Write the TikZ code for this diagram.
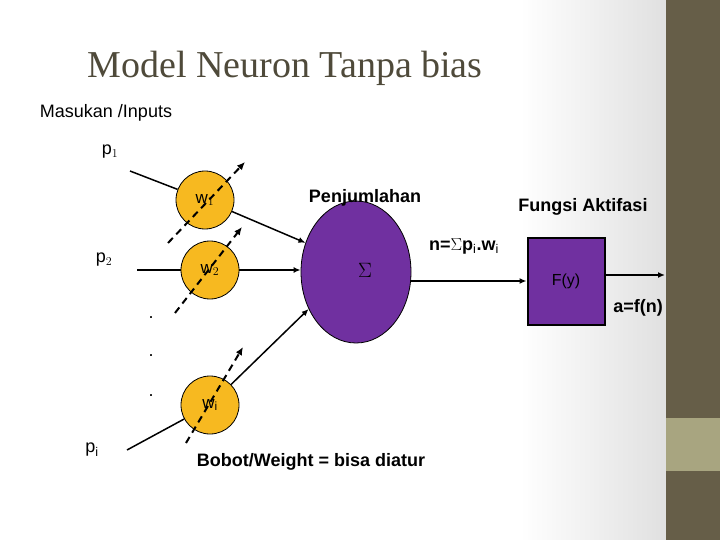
\documentclass[tikz,border=0pt]{standalone}
\usepackage{fontspec}
\setmainfont{Liberation Sans}
\newfontfamily\titlefont{Liberation Serif}
\usetikzlibrary{arrows.meta,shapes.geometric}
\definecolor{olive}{HTML}{665E48}
\definecolor{lolive}{HTML}{A8A580}
\definecolor{purp}{HTML}{7030A0}
\definecolor{gold}{HTML}{F7B920}
\definecolor{titlec}{HTML}{4F4A3A}
\begin{document}
\begin{tikzpicture}[x=1pt,y=-1pt,
  wt/.style={circle,draw=black,thick,fill=gold,minimum size=58pt,inner sep=0pt,font=\fontsize{17}{17}\selectfont},
  lab/.style={font=\fontsize{18}{18}\selectfont},
  blab/.style={font=\bfseries\fontsize{18}{18}\selectfont},
  conn/.style={line width=1.5pt,-{Latex[length=7pt,width=6pt]}},
  plain/.style={line width=1.5pt},
  wdash/.style={line width=2pt,dash pattern=on 7pt off 5pt,-{Latex[length=8pt,width=7pt]}}]
\useasboundingbox (0,0) rectangle (720,540);
\shade[left color=white,right color=white!88!black] (520,0) rectangle (666,540);
\fill[olive] (666,0) rectangle (720,540);
\fill[lolive] (666,418) rectangle (720,471);
\node[font=\titlefont\fontsize{38}{38}\selectfont,text=titlec] (title) at (285,68) {Model Neuron Tanpa bias};
\node[lab] (inp) at (106,113) {Masukan /Inputs};
\node[lab] (p1) at (110,152) {p$_1$};
\node[lab] (p2) at (104,260) {p$_2$};
\node[lab] (pi) at (92,450) {p$_\mathrm{i}$};
\coordinate (p1e) at (130,171);
\coordinate (p2e) at (137,270);
\coordinate (pie) at (127,450);
\node[wt] (w1) at (205,200) {w$_1$};
\node[wt] (w2) at (210,270) {w$_2$};
\node[wt] (wi) at (210,405) {w$_\mathrm{i}$};
\node[ellipse,draw=black,thick,fill=purp,minimum width=110pt,minimum height=142pt] (sum) at (356,272) {};
\node[font=\fontsize{22}{22}\selectfont] (sig) at (365,270) {$\Sigma$};
\node[draw=black,line width=2pt,fill=purp,minimum width=77pt,minimum height=87pt,inner sep=0pt,font=\fontsize{16}{16}\selectfont] (box) at (566,281) {F(y)};
\draw[plain] (p1e) -- (w1);
\draw[plain] (p2e) -- (w2);
\draw[plain] (pie) -- (wi);
\draw[conn] (w1) -- (sum.150);
\draw[conn] (w2) -- (sum.west |- w2);
\draw[conn] (wi) -- (sum.218);
\coordinate (d1s) at (168,243); \coordinate (d1e) at (245,162);
\coordinate (d2s) at (175,313); \coordinate (d2e) at (242,227);
\coordinate (dis) at (186,443); \coordinate (die) at (243,347);
\draw[wdash] (d1s) -- (d1e);
\draw[wdash] (d2s) -- (d2e);
\draw[wdash] (dis) -- (die);
\node[lab] (dot1) at (151,318) {.};
\node[lab] (dot2) at (151,356) {.};
\node[lab] (dot3) at (151,396) {.};
\draw[conn] (sum.east |- box) -- (box.west);
\coordinate (out) at (665,275);
\draw[conn] (box.east |- out) -- (out);
\node[blab] (pj) at (365,198) {Penjumlahan};
\node[blab] (fa) at (583,207) {Fungsi Aktifasi};
\node[blab] (n) at (464,246) {n=$\Sigma$p$_\mathrm{i}$.w$_\mathrm{i}$};
\node[blab] (a) at (638,308) {a=f(n)};
\node[blab] (bw) at (311,462) {Bobot/Weight = bisa diatur};
\end{tikzpicture}
\end{document}
